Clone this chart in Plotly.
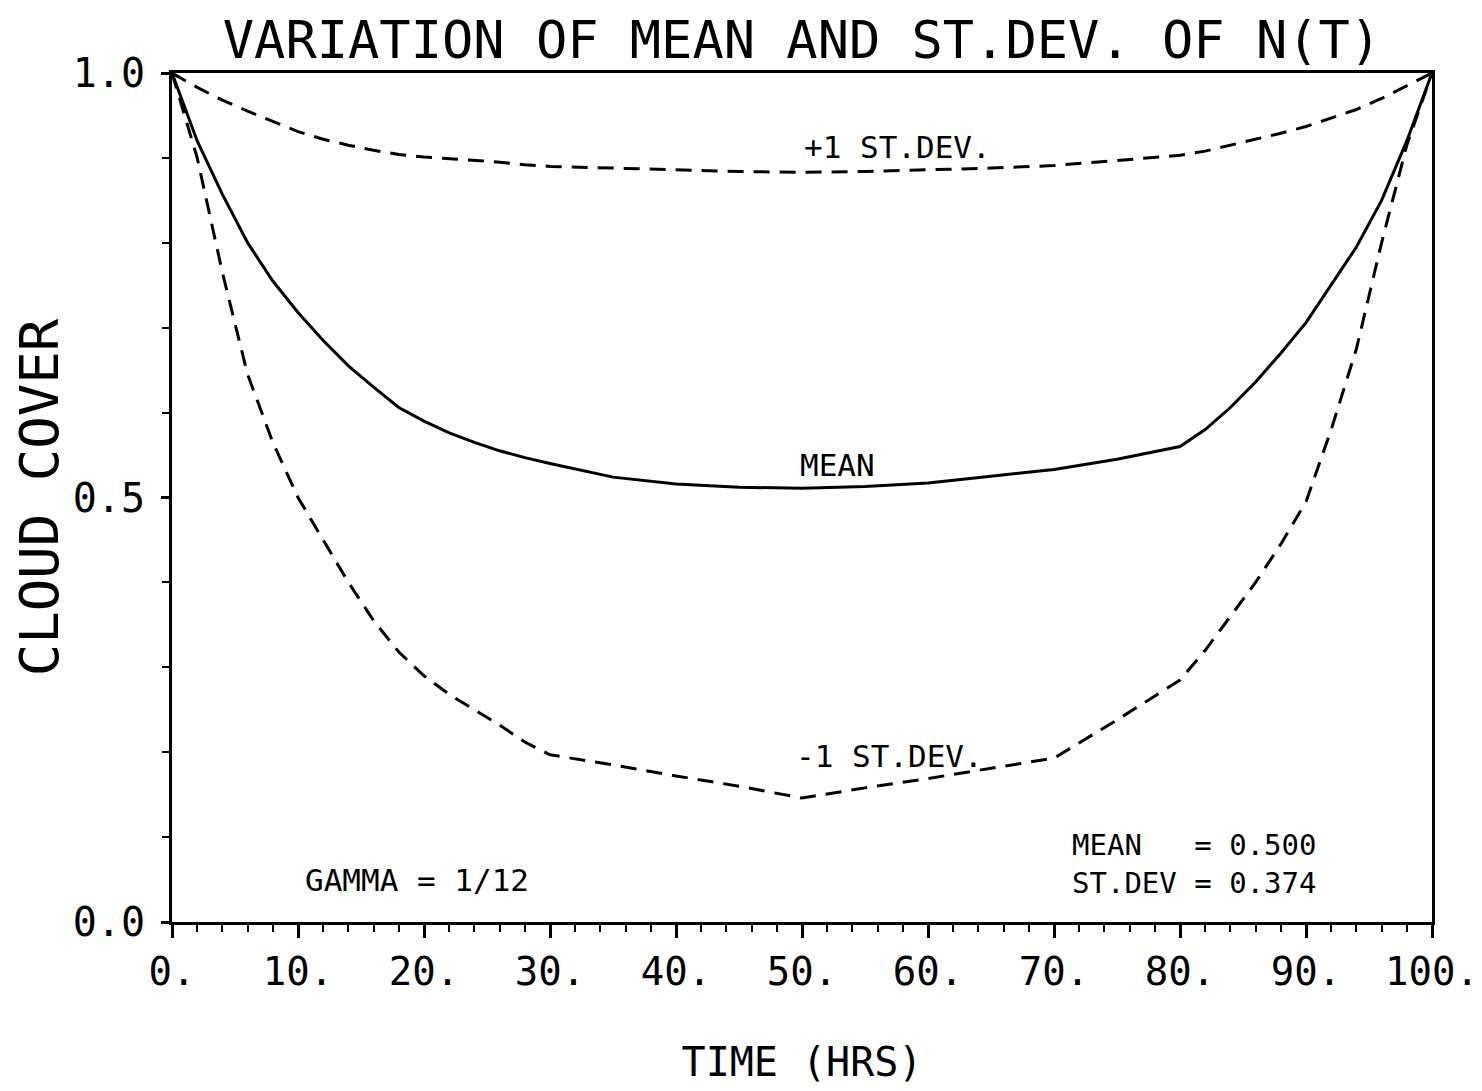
import plotly.graph_objects as go

# ---- data ----
time_hrs = [0, 2, 4, 6, 8, 10, 12, 14, 16, 18, 20, 22, 24, 26, 28, 30, 35, 40, 45, 50,
            55, 60, 65, 70, 75, 80, 82, 84, 86, 88, 90, 92, 94, 96, 98, 100]
mean_vals = [1.0, 0.92, 0.857, 0.80, 0.755, 0.718, 0.685, 0.655, 0.63, 0.606, 0.59, 0.576,
             0.565, 0.555, 0.547, 0.54, 0.524, 0.516, 0.512, 0.511, 0.513, 0.517, 0.525,
             0.533, 0.545, 0.56, 0.58, 0.606, 0.636, 0.67, 0.706, 0.75, 0.795, 0.85, 0.92, 1.0]
plus_sd_vals = [1.0, 0.983, 0.968, 0.955, 0.943, 0.931, 0.922, 0.915, 0.909, 0.904, 0.901,
                0.899, 0.897, 0.895, 0.892, 0.89, 0.888, 0.886, 0.884, 0.883, 0.884, 0.886,
                0.888, 0.891, 0.897, 0.903, 0.908, 0.915, 0.922, 0.929, 0.937, 0.947, 0.957,
                0.97, 0.985, 1.0]
minus_sd_vals = [1.0, 0.90, 0.765, 0.645, 0.565, 0.50, 0.45, 0.40, 0.355, 0.318, 0.29, 0.268,
                 0.25, 0.232, 0.212, 0.197, 0.185, 0.172, 0.16, 0.146, 0.158, 0.169, 0.181,
                 0.193, 0.238, 0.285, 0.32, 0.36, 0.40, 0.445, 0.495, 0.58, 0.675, 0.80,
                 0.915, 1.0]

x_tick_vals = [0, 10, 20, 30, 40, 50, 60, 70, 80, 90, 100]
x_tick_text = ["0.", "10.", "20.", "30.", "40.", "50.", "60.", "70.", "80.", "90.", "100."]
y_tick_vals = [0.0, 0.5, 1.0]
y_tick_text = ["0.0", "0.5", "1.0"]

FONT = "DejaVu Sans Mono"
BLACK = "#000000"

fig = go.Figure()
fig.add_trace(go.Scatter(x=time_hrs, y=plus_sd_vals, mode="lines", name="+1 ST.DEV.",
                         line=dict(color=BLACK, width=3, dash="16px,10px")))
fig.add_trace(go.Scatter(x=time_hrs, y=mean_vals, mode="lines", name="MEAN",
                         line=dict(color=BLACK, width=3)))
fig.add_trace(go.Scatter(x=time_hrs, y=minus_sd_vals, mode="lines", name="-1 ST.DEV.",
                         line=dict(color=BLACK, width=3, dash="16px,10px")))

ann_font = dict(family=FONT, size=31, color=BLACK)
annotations = [
    dict(x=50, y=0.913, text="+1 ST.DEV.", xanchor="left", yanchor="middle"),
    dict(x=49.7, y=0.538, text="MEAN", xanchor="left", yanchor="middle"),
    dict(x=49.4, y=0.196, text="-1 ST.DEV.", xanchor="left", yanchor="middle"),
    dict(x=10.4, y=0.049, text="GAMMA = 1/12", xanchor="left", yanchor="middle"),
    dict(x=71.3, y=0.068, text="MEAN\u00a0\u00a0\u00a0= 0.500<br>ST.DEV = 0.374",
         xanchor="left", yanchor="middle", align="left", font=dict(family=FONT, size=29, color=BLACK)),
]
for a in annotations:
    a.update(xref="x", yref="y", showarrow=False)
    a.setdefault("font", ann_font)

# the page body adds an 8px offset, so the figure is sized/margined to compensate
W, H = 1474, 1083
fig.update_layout(
    width=W, height=H,
    margin=dict(l=164, r=50, t=65, b=169, autoexpand=False),
    paper_bgcolor="white", plot_bgcolor="white",
    showlegend=False,
    font=dict(family=FONT, color=BLACK),
    title=dict(text="VARIATION OF MEAN AND ST.DEV. OF N(T)",
               font=dict(family=FONT, size=52, color=BLACK),
               x=0.5, xref="paper", xanchor="center",
               y=1 - 32 / H, yref="container", yanchor="middle"),
    annotations=annotations,
    xaxis=dict(range=[0, 100], showgrid=False, zeroline=False, automargin=False,
               showline=True, linewidth=3, linecolor=BLACK, mirror=True,
               ticks="outside", ticklen=13, tickwidth=3, tickcolor=BLACK,
               tickvals=x_tick_vals, ticktext=x_tick_text,
               tickfont=dict(family=FONT, size=39, color=BLACK),
               minor=dict(dtick=2, ticks="outside", ticklen=7, tickwidth=2,
                          tickcolor=BLACK, showgrid=False),
               title=dict(text="TIME (HRS)", standoff=56,
                          font=dict(family=FONT, size=40, color=BLACK))),
    yaxis=dict(range=[0, 1], showgrid=False, zeroline=False, automargin=False,
               showline=True, linewidth=3, linecolor=BLACK, mirror=True,
               ticks="outside", ticklen=8, tickwidth=3, tickcolor=BLACK,
               tickvals=y_tick_vals, ticktext=y_tick_text,
               tickfont=dict(family=FONT, size=40, color=BLACK),
               ticklabelstandoff=8,
               minor=dict(dtick=0.1, ticks="outside", ticklen=7, tickwidth=2,
                          tickcolor=BLACK, showgrid=False),
               title=dict(text="CLOUD COVER", standoff=18,
                          font=dict(family=FONT, size=54, color=BLACK))),
)

fig.write_html("out.html")
